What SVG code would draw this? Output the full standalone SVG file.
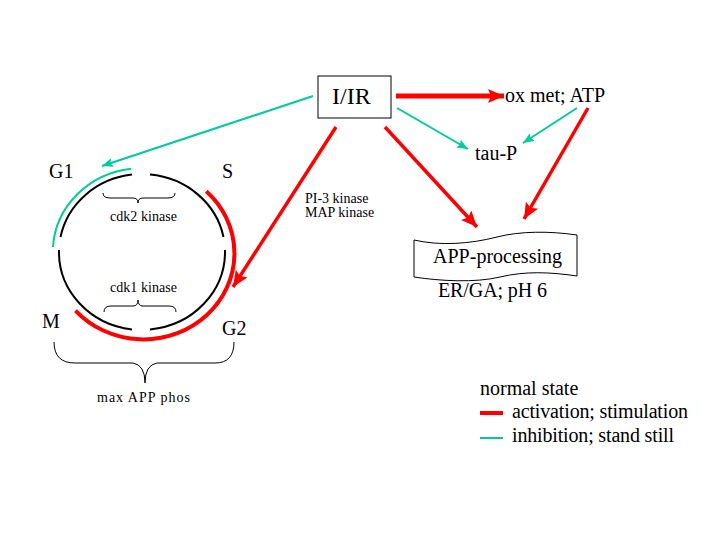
<svg xmlns="http://www.w3.org/2000/svg" width="720" height="540" viewBox="0 0 720 540">
<style>
text{font-family:"Liberation Serif","Times New Roman",serif;fill:#000}
.big{font-size:20px;font-family:"Liberation Serif","Times New Roman",serif}
.sm{font-size:14px;font-family:"Liberation Serif","Times New Roman",serif}
.red{stroke:#FF0000;fill:none}
.grn{stroke:#00CC99;fill:none}
.blk{stroke:#000;fill:none}
</style>
<defs>
<marker id="ar" markerUnits="userSpaceOnUse" markerWidth="18" markerHeight="16" refX="16" refY="7" orient="auto">
<path d="M0,0 L16,7 L0,14 L3,7 Z" fill="#FF0000"/>
</marker>
<marker id="ag" markerUnits="userSpaceOnUse" markerWidth="12" markerHeight="10" refX="11" refY="4.5" orient="auto">
<path d="M0,0 L11,4.5 L0,9 L2,4.5 Z" fill="#00CC99"/>
</marker>
</defs>
<rect width="720" height="540" fill="#fff"/>

<g id="cycle">
<path class="blk" stroke-width="2" d="M150,174.6 A83,78 0 0 1 223.5,237"/>
<path class="blk" stroke-width="2" d="M225,250 A83,78 0 0 1 150,329.4"/>
<path class="blk" stroke-width="2" d="M132,329.4 A83,78 0 0 1 59,250"/>
<path class="blk" stroke-width="2" d="M60.5,237 A83,78 0 0 1 132,174.6"/>
<path class="grn" stroke-width="2" d="M53,247 A89,84 0 0 1 131,168.7"/>
<path class="red" stroke-width="4" d="M206.3,191.2 A91,86 0 1 1 75.5,310.6"/>
<path class="blk" stroke-width="1" d="M103,193 Q103,198 110,198 L133,198 Q138,198 138,203 Q138,198 143,198 L168,198 Q175,198 175,193"/>
<path class="blk" stroke-width="1" d="M104,312 Q104,306 111,306 L133,306 Q138,306 138,300 Q138,306 143,306 L169,306 Q176,306 176,312"/>
<path class="blk" stroke-width="1" d="M54,342 Q54,363 75,363 L133,363 Q145,365 145,383 Q145,365 157,363 L215,363 Q234,363 234,342"/>
<text class="sm" x="110" y="221" textLength="67">cdk2 kinase</text>
<text class="sm" x="110" y="292" textLength="67">cdk1 kinase</text>
<text class="sm" x="97" y="402" textLength="93">max APP phos</text>
</g>

<g id="G1"><text class="big" x="49" y="178">G1</text></g>
<g id="S"><text class="big" x="222" y="178">S</text></g>
<g id="M"><text class="big" x="42" y="328">M</text></g>
<g id="G2"><text class="big" x="222" y="335">G2</text></g>

<g id="IIR">
<rect x="318" y="76" width="73" height="42" fill="#fff" stroke="#000" stroke-width="1"/>
<text x="332" y="104" font-size="24">I/IR</text>
</g>

<g id="oxmet"><text class="big" x="505" y="102" textLength="100">ox met; ATP</text></g>
<g id="tauP"><text class="big" x="475" y="160">tau-P</text></g>

<g id="app">
<path fill="#fff" stroke="#000" stroke-width="1" d="M414,240 C440,246 470,244 497,237 C520,231 550,231 577,235 L577,276 C550,272 525,271 500,277 C475,283 440,281 414,277 Z"/>
<text class="big" x="433" y="263" textLength="129">APP-processing</text>
<text class="big" x="438" y="297" textLength="109">ER/GA; pH 6</text>
</g>

<g id="kinases">
<text class="sm" x="305" y="203">PI-3 kinase</text>
<text class="sm" x="305" y="217">MAP kinase</text>
</g>

<g id="connectors">
<line class="red" stroke-width="5" x1="396" y1="96" x2="504" y2="96" marker-end="url(#ar)"/>
<line class="grn" stroke-width="2" x1="397" y1="108" x2="468" y2="149" marker-end="url(#ag)"/>
<line class="grn" stroke-width="2" x1="577" y1="108" x2="523" y2="143" marker-end="url(#ag)"/>
<line class="red" stroke-width="3.5" x1="588" y1="108" x2="524" y2="219" marker-end="url(#ar)"/>
<line class="red" stroke-width="3.5" x1="385" y1="127" x2="477" y2="227" marker-end="url(#ar)"/>
<line class="red" stroke-width="3.5" x1="336" y1="127" x2="233" y2="287" marker-end="url(#ar)"/>
<line class="grn" stroke-width="2" x1="313" y1="96" x2="102" y2="166" marker-end="url(#ag)"/>
</g>

<g id="legend">
<text class="big" x="480" y="395">normal state</text>
<line class="red" stroke-width="4" x1="480" y1="413" x2="503" y2="413"/>
<text class="big" x="512" y="418" textLength="176">activation; stimulation</text>
<line class="grn" stroke-width="2" x1="480" y1="438" x2="503" y2="438"/>
<text class="big" x="512" y="442" textLength="162">inhibition; stand still</text>
</g>
</svg>
